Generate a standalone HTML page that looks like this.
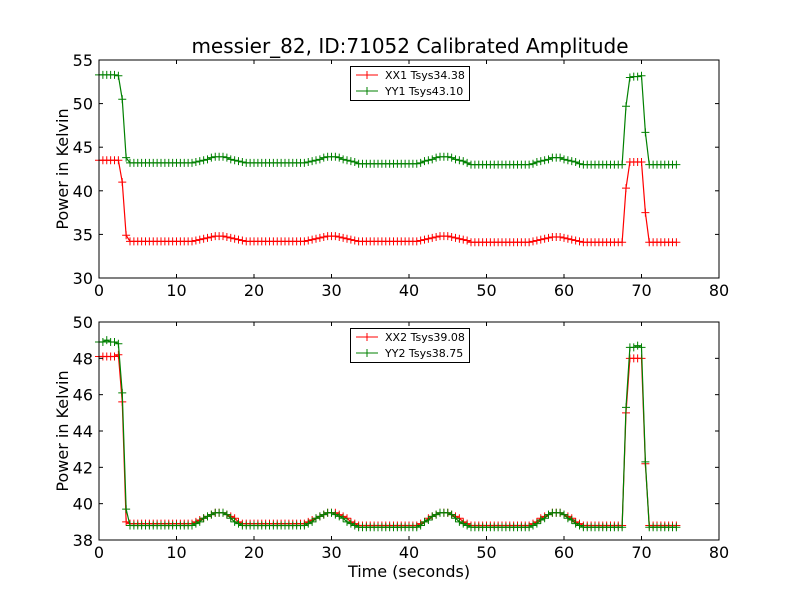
<!DOCTYPE html>
<html><head><meta charset="utf-8"><style>
body{margin:0;background:#fff}
svg text{font-family:"DejaVu Sans","Liberation Sans",sans-serif}
</style></head><body>
<svg id="chart" width="800" height="600" xmlns="http://www.w3.org/2000/svg">
<rect width="800" height="600" fill="#fff"/>
<text x="410" y="53" font-size="20" text-anchor="middle">messier_82, ID:71052 Calibrated Amplitude</text>
</svg>
<script>
const timeStep = 0.5;
const xTicks = [0,10,20,30,40,50,60,70,80];
const topYTicks = [30,35,40,45,50,55];
const botYTicks = [38,40,42,44,46,48,50];
const topLegend = ["XX1 Tsys34.38","YY1 Tsys43.10"];
const botLegend = ["XX2 Tsys39.08","YY2 Tsys38.75"];
const XX1 = [43.5,43.5,43.5,43.5,43.5,43.5,41.0,34.9,
34.2,34.2,34.2,34.2,34.2,34.2,34.2,34.2,34.2,34.2,34.2,34.2,34.2,34.2,34.2,34.2,34.2,
34.3,34.4,34.5,34.6,34.7,34.8,34.8,34.8,34.7,34.6,34.5,34.4,34.3,
34.2,34.2,34.2,34.2,34.2,34.2,34.2,34.2,34.2,34.2,34.2,34.2,34.2,34.2,34.2,34.2,
34.3,34.4,34.5,34.6,34.7,34.8,34.8,34.8,34.7,34.6,34.5,34.4,34.3,
34.2,34.2,34.2,34.2,34.2,34.2,34.2,34.2,34.2,34.2,34.2,34.2,34.2,34.2,34.2,34.2,
34.3,34.4,34.5,34.6,34.7,34.8,34.8,34.8,34.7,34.6,34.5,34.4,34.3,
34.1,34.1,34.1,34.1,34.1,34.1,34.1,34.1,34.1,34.1,34.1,34.1,34.1,34.1,34.1,34.1,
34.2,34.3,34.4,34.5,34.6,34.7,34.7,34.7,34.6,34.5,34.4,34.3,34.2,
34.1,34.1,34.1,34.1,34.1,34.1,34.1,34.1,34.1,34.1,34.1,
40.3,43.3,43.3,43.3,43.3,37.5,
34.1,34.1,34.1,34.1,34.1,34.1,34.1,34.1];
const YY1 = [53.3,53.3,53.3,53.3,53.3,53.2,50.5,43.8,
43.2,43.2,43.2,43.2,43.2,43.2,43.2,43.2,43.2,43.2,43.2,43.2,43.2,43.2,43.2,43.2,43.2,
43.3,43.4,43.5,43.6,43.8,43.9,43.9,43.9,43.8,43.6,43.5,43.4,43.3,
43.2,43.2,43.2,43.2,43.2,43.2,43.2,43.2,43.2,43.2,43.2,43.2,43.2,43.2,43.2,43.2,
43.3,43.4,43.5,43.6,43.8,43.9,43.9,43.9,43.8,43.6,43.5,43.4,43.3,
43.1,43.1,43.1,43.1,43.1,43.1,43.1,43.1,43.1,43.1,43.1,43.1,43.1,43.1,43.1,43.1,
43.2,43.4,43.5,43.6,43.8,43.9,43.9,43.9,43.8,43.6,43.5,43.4,43.2,
43.0,43.0,43.0,43.0,43.0,43.0,43.0,43.0,43.0,43.0,43.0,43.0,43.0,43.0,43.0,43.0,
43.1,43.3,43.4,43.5,43.6,43.8,43.8,43.8,43.6,43.5,43.4,43.3,43.1,
43.0,43.0,43.0,43.0,43.0,43.0,43.0,43.0,43.0,43.0,43.0,
49.7,53.0,53.1,53.1,53.2,46.7,
43.0,43.0,43.0,43.0,43.0,43.0,43.0,43.0];
const XX2 = [48.1,48.1,48.1,48.1,48.1,48.2,45.6,39.0,
38.9,38.9,38.9,38.9,38.9,38.9,38.9,38.9,38.9,38.9,38.9,38.9,38.9,38.9,38.9,38.9,38.9,
39.0,39.1,39.2,39.3,39.4,39.5,39.5,39.5,39.4,39.3,39.2,39.0,38.9,
38.9,38.9,38.9,38.9,38.9,38.9,38.9,38.9,38.9,38.9,38.9,38.9,38.9,38.9,38.9,38.9,
39.0,39.1,39.2,39.3,39.4,39.5,39.5,39.5,39.4,39.3,39.2,39.0,38.9,
38.8,38.8,38.8,38.8,38.8,38.8,38.8,38.8,38.8,38.8,38.8,38.8,38.8,38.8,38.8,38.8,
38.9,39.0,39.2,39.3,39.4,39.5,39.5,39.5,39.4,39.3,39.2,39.0,38.9,
38.8,38.8,38.8,38.8,38.8,38.8,38.8,38.8,38.8,38.8,38.8,38.8,38.8,38.8,38.8,38.8,
38.9,39.0,39.2,39.3,39.4,39.5,39.5,39.5,39.4,39.3,39.2,39.0,38.9,
38.8,38.8,38.8,38.8,38.8,38.8,38.8,38.8,38.8,38.8,38.8,
45.0,48.0,48.0,48.0,48.0,42.2,
38.8,38.8,38.8,38.8,38.8,38.8,38.8,38.8];
const YY2 = [48.9,48.9,49.0,48.9,48.9,48.8,46.1,39.7,
38.8,38.8,38.8,38.8,38.8,38.8,38.8,38.8,38.8,38.8,38.8,38.8,38.8,38.8,38.8,38.8,38.8,
38.9,39.0,39.2,39.3,39.4,39.5,39.5,39.5,39.4,39.2,39.0,38.9,38.8,
38.8,38.8,38.8,38.8,38.8,38.8,38.8,38.8,38.8,38.8,38.8,38.8,38.8,38.8,38.8,38.8,
38.9,39.0,39.2,39.3,39.4,39.5,39.5,39.4,39.3,39.2,39.0,38.9,38.8,
38.7,38.7,38.7,38.7,38.7,38.7,38.7,38.7,38.7,38.7,38.7,38.7,38.7,38.7,38.7,38.7,
38.8,39.0,39.1,39.3,39.4,39.5,39.5,39.5,39.4,39.2,39.0,38.9,38.8,
38.7,38.7,38.7,38.7,38.7,38.7,38.7,38.7,38.7,38.7,38.7,38.7,38.7,38.7,38.7,38.7,
38.8,38.9,39.1,39.2,39.4,39.5,39.5,39.5,39.4,39.2,39.1,38.9,38.8,
38.7,38.7,38.7,38.7,38.7,38.7,38.7,38.7,38.7,38.7,38.7,
45.3,48.6,48.6,48.7,48.6,42.3,
38.7,38.7,38.7,38.7,38.7,38.7,38.7,38.7];

const NS="http://www.w3.org/2000/svg";
const svg=document.getElementById('chart');
function mk(tag,attrs,parent){const e=document.createElementNS(NS,tag);for(const k in attrs)e.setAttribute(k,attrs[k]);(parent||svg).appendChild(e);return e;}

function panel(name,top,bottom,yMin,yMax,yTicks,series,colors,labels,xlabel){
  const L=99,R=719;
  const xs=v=>L+(v-0)/(80-0)*(R-L);
  const ys=v=>bottom-(v-yMin)/(yMax-yMin)*(bottom-top);
  const g=mk('g',{});
  
  
  series.forEach((arr,si)=>{
    const sg=mk('g',{},g);
    
    
    let d='';
    arr.forEach((v,i)=>{d+=(i?'L':'M')+xs(i*timeStep).toFixed(2)+' '+ys(v).toFixed(2);});
    mk('path',{d:d,fill:'none',stroke:colors[si],'stroke-width':1.2},sg);
    let md='';
    arr.forEach((v,i)=>{const x=xs(i*timeStep),y=ys(v);md+=`M${(x-4).toFixed(2)} ${y.toFixed(2)}h8M${x.toFixed(2)} ${(y-4).toFixed(2)}v8`;});
    mk('path',{d:md,fill:'none',stroke:colors[si],'stroke-width':1},sg);
  });
  const frame=mk('rect',{x:L,y:top,width:R-L,height:bottom-top,fill:'none',stroke:'#000','stroke-width':1},g);
  
  
  xTicks.forEach(t=>{
    const x=xs(t);
    mk('line',{x1:x,x2:x,y1:bottom,y2:bottom-4,stroke:'#000'},g);
    mk('line',{x1:x,x2:x,y1:top,y2:top+4,stroke:'#000'},g);
    const tx=mk('text',{x:x,y:bottom+18,'font-size':16,'text-anchor':'middle'},g);
    
    
    tx.textContent=t;
  });
  yTicks.forEach(t=>{
    const y=ys(t);
    mk('line',{x1:L,x2:L+4,y1:y,y2:y,stroke:'#000'},g);
    mk('line',{x1:R,x2:R-4,y1:y,y2:y,stroke:'#000'},g);
    const tx=mk('text',{x:L-6,y:y+6,'font-size':16,'text-anchor':'end'},g);
    
    
    tx.textContent=t;
  });
  const yl=mk('text',{x:0,y:0,'font-size':16,'text-anchor':'middle',transform:`translate(68,${(top+bottom)/2}) rotate(-90)`},g);
  
  
  yl.textContent='Power in Kelvin';
  if(xlabel){
    const xl=mk('text',{x:(L+R)/2,y:bottom+37,'font-size':16,'text-anchor':'middle'},g);
    
    
    xl.textContent=xlabel;
  }
  const lg=mk('g',{},g);
  
  
  mk('rect',{x:350.5,y:top+6.5,width:119,height:34,fill:'#fff',stroke:'#000'},lg);
  labels.forEach((lab,i)=>{
    const y=top+15+i*16;
    mk('line',{x1:356,x2:378,y1:y,y2:y,stroke:colors[i],'stroke-width':1},lg);
    mk('path',{d:`M363 ${y}h8M367 ${y-4}v8`,stroke:colors[i]},lg);
    const t=mk('text',{x:385,y:y+4,'font-size':11},lg);
    
    
    t.textContent=lab;
  });
}
panel('top-panel',60,278,30,55,topYTicks,[XX1,YY1],['#ff0000','#008000'],topLegend,null);
panel('bottom-panel',322,540,38,50,botYTicks,[XX2,YY2],['#ff0000','#008000'],botLegend,'Time (seconds)');
</script>
</body></html>
